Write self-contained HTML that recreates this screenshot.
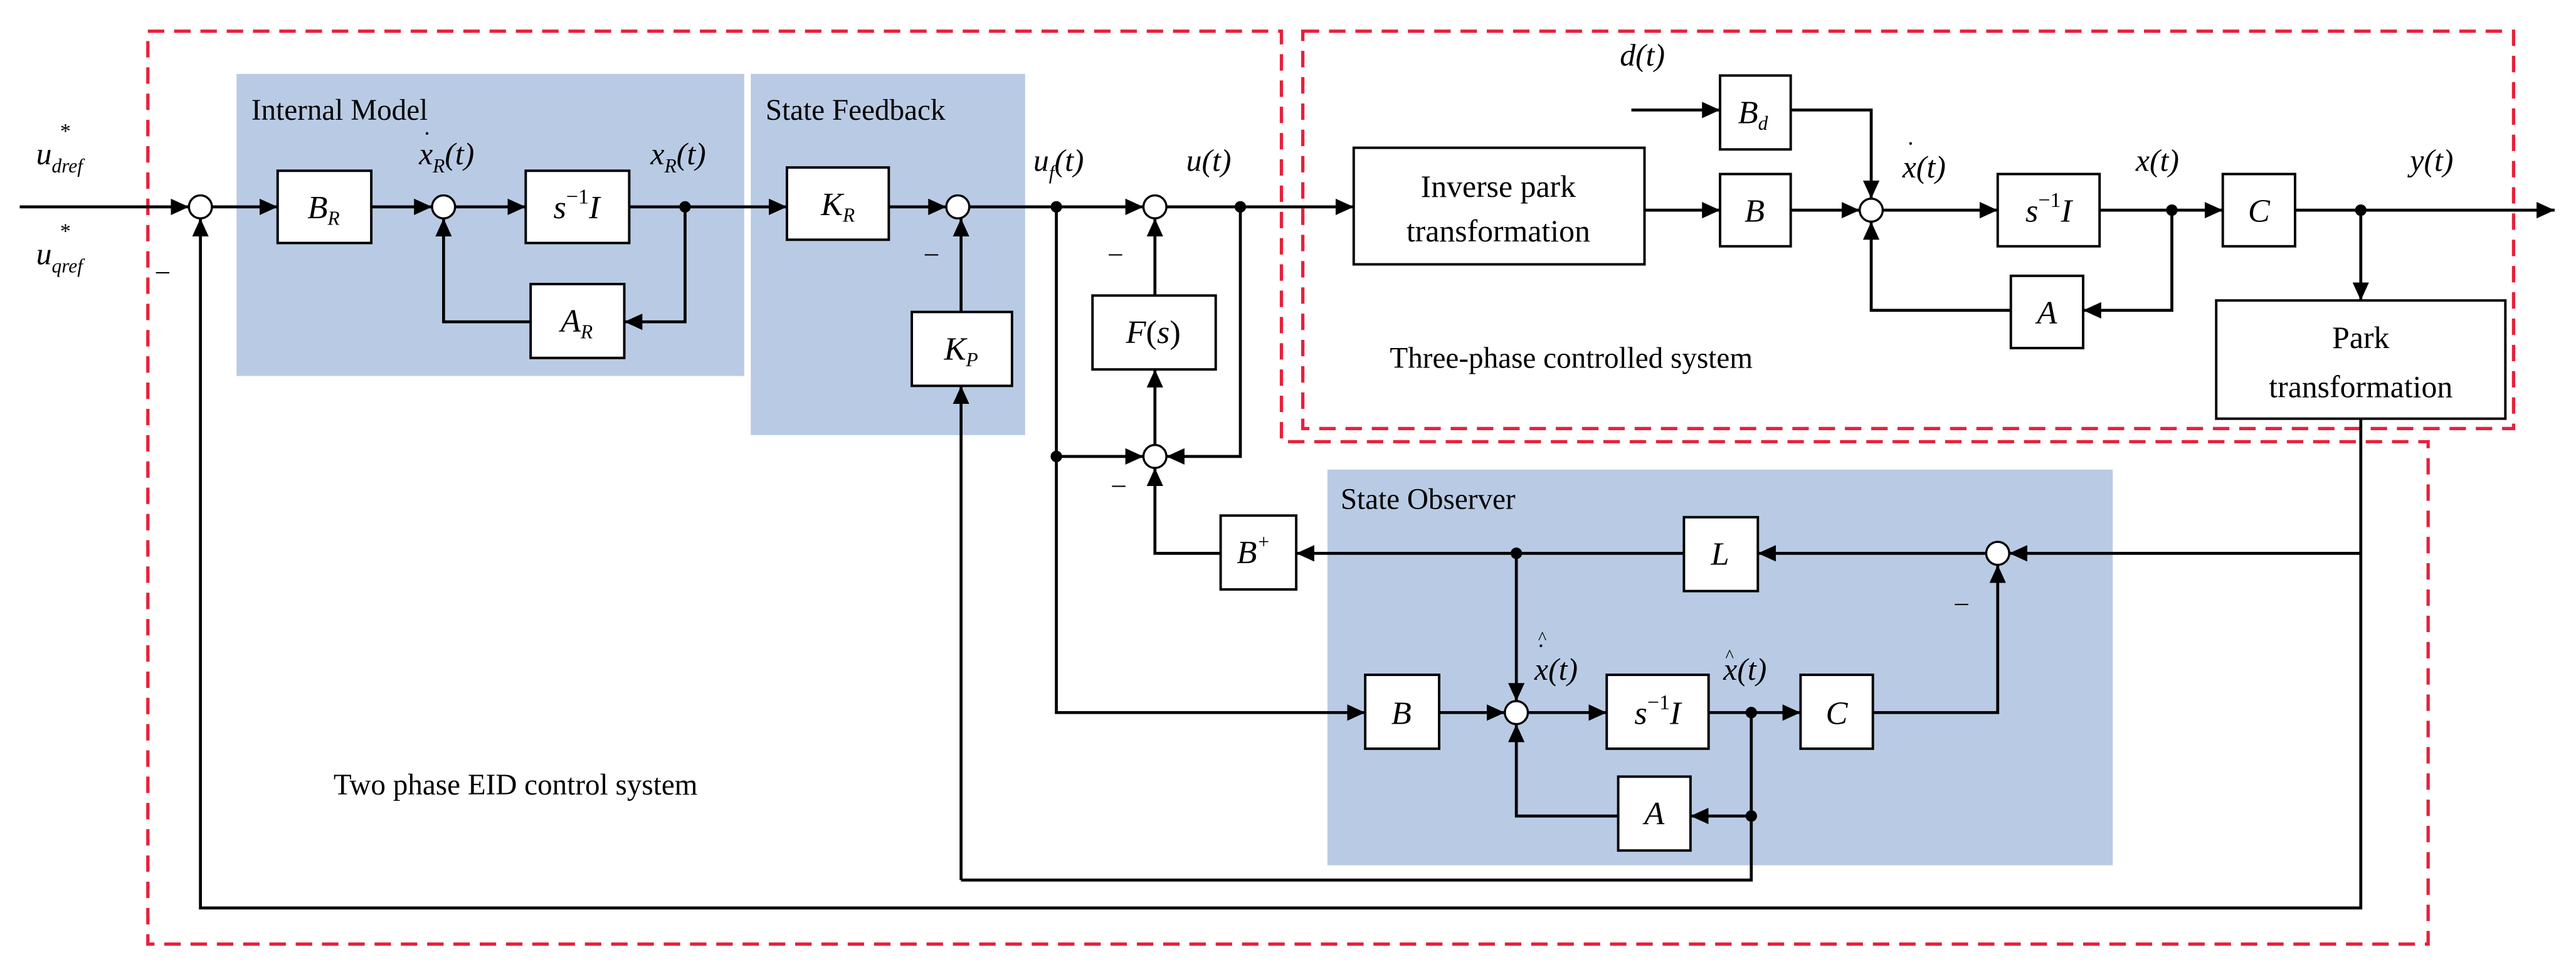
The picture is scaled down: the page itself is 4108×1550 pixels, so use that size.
<!DOCTYPE html>
<html><head><meta charset="utf-8"><style>
html,body{margin:0;padding:0;background:#fff}
svg{display:block}
svg text, svg tspan{font-family:"Liberation Serif","DejaVu Serif",serif;fill:#000}
.i{font-style:italic}
</style></head><body>
<svg width="4108" height="1550" viewBox="0 0 1568 592" preserveAspectRatio="none" xmlns="http://www.w3.org/2000/svg" font-family="Liberation Serif, DejaVu Serif, serif">
<defs>
<marker id="a" markerUnits="userSpaceOnUse" markerWidth="12" markerHeight="12" viewBox="0 0 12 12" refX="11" refY="6" orient="auto"><path d="M0,1 L11,6 L0,11 Z" fill="#000"/></marker>
</defs>
<rect x="144" y="45" width="309" height="184" fill="#b9cbe4"/>
<rect x="457" y="45" width="167" height="220" fill="#b9cbe4"/>
<rect x="808" y="286" width="478" height="241" fill="#b9cbe4"/>
<g fill="none" stroke="#e8203a" stroke-width="2" stroke-dasharray="10,6">
<path d="M90 19 H780 V269 H1478 V575 H90 Z"/>
<rect x="793" y="19" width="737" height="242"/>
</g>
<g fill="none" stroke="#000" stroke-width="1.8" marker-end="url(#a)">
<path d="M12 126 H115"/>
<path d="M129 126 H169"/>
<path d="M226 126 H263"/>
<path d="M277 126 H320"/>
<path d="M383 126 H479"/>
<path d="M541 126 H576"/>
<path d="M590 126 H696"/>
<path d="M710 126 H824"/>
<path d="M417 126 V196 H380"/>
<path d="M323 196 H270 V133"/>
<path d="M585 190 V133"/>
<path d="M585 536 V235"/>
<path d="M703 180 V133"/>
<path d="M703 271 V225"/>
<path d="M643 126 V434 H831"/>
<path d="M643 278 H696"/>
<path d="M755 126 V278 H710"/>
<path d="M743 337 H703 V285"/>
<path d="M1001 128 H1047"/>
<path d="M1090 128 H1132"/>
<path d="M993 67 H1047"/>
<path d="M1090 67 H1139 V121"/>
<path d="M1146 128 H1216"/>
<path d="M1278 128 H1353"/>
<path d="M1322 128 V189 H1268"/>
<path d="M1224 189 H1139 V135"/>
<path d="M1397 128 H1555"/>
<path d="M1437 128 V183"/>
<path d="M1437 255 V553 H122 V133"/>
<path d="M1437 337 H1223"/>
<path d="M1209 337 H1070"/>
<path d="M1025 337 H789"/>
<path d="M923 337 V427"/>
<path d="M876 434 H916"/>
<path d="M930 434 H978"/>
<path d="M1040 434 H1096"/>
<path d="M1140 434 H1216 V344"/>
<path d="M1066 497 H1029"/>
<path d="M985 497 H923 V441"/>
</g>
<path d="M1066 434 V536 H585" fill="none" stroke="#000" stroke-width="1.8"/>
<g fill="#000">
<circle cx="417" cy="126" r="3.5"/><circle cx="643" cy="126" r="3.5"/><circle cx="755" cy="126" r="3.5"/>
<circle cx="643" cy="278" r="3.5"/><circle cx="1322" cy="128" r="3.5"/><circle cx="1437" cy="128" r="3.5"/>
<circle cx="923" cy="337" r="3.5"/><circle cx="1066" cy="434" r="3.5"/><circle cx="1066" cy="497" r="3.5"/>
</g>
<g fill="#fff" stroke="#000" stroke-width="1.3">
<circle cx="122" cy="126" r="7"/><circle cx="270" cy="126" r="7"/><circle cx="583" cy="126" r="7"/>
<circle cx="703" cy="126" r="7"/><circle cx="703" cy="278" r="7"/><circle cx="1139" cy="128" r="7"/>
<circle cx="1216" cy="337" r="7"/><circle cx="923" cy="434" r="7"/>
</g>
<g fill="#fff" stroke="#000" stroke-width="1.5">
<rect x="169" y="104" width="57" height="44"/>
<rect x="320" y="104" width="63" height="44"/>
<rect x="323" y="173" width="57" height="45"/>
<rect x="479" y="102" width="62" height="44"/>
<rect x="555" y="190" width="61" height="45"/>
<rect x="665" y="180" width="75" height="45"/>
<rect x="824" y="90" width="177" height="71"/>
<rect x="1047" y="46" width="43" height="45"/>
<rect x="1047" y="106" width="43" height="44"/>
<rect x="1216" y="106" width="62" height="44"/>
<rect x="1353" y="106" width="44" height="44"/>
<rect x="1224" y="168" width="44" height="44"/>
<rect x="1349" y="183" width="176" height="72"/>
<rect x="743" y="314" width="46" height="45"/>
<rect x="1025" y="315" width="45" height="45"/>
<rect x="831" y="411" width="45" height="45"/>
<rect x="978" y="411" width="62" height="45"/>
<rect x="1096" y="411" width="44" height="45"/>
<rect x="985" y="473" width="44" height="45"/>
</g>
<g font-size="20" text-anchor="middle">
<text x="197" y="133" class="i">B<tspan font-size="12" dy="4">R</tspan></text>
<text x="351" y="133"><tspan class="i">s</tspan><tspan font-size="13" dy="-9">−1</tspan><tspan class="i" dy="9">I</tspan></text>
<text x="351" y="202" class="i">A<tspan font-size="12" dy="4">R</tspan></text>
<text x="510" y="131" class="i">K<tspan font-size="12" dy="4">R</tspan></text>
<text x="585" y="219" class="i">K<tspan font-size="12" dy="4">P</tspan></text>
<text x="702" y="209"><tspan class="i">F</tspan>(<tspan class="i">s</tspan>)</text>
<text x="912" y="120" font-size="19">Inverse park</text>
<text x="912" y="147" font-size="19">transformation</text>
<text x="1067" y="75" class="i">B<tspan font-size="12" dy="4">d</tspan></text>
<text x="1068" y="135" class="i">B</text>
<text x="1247" y="135"><tspan class="i">s</tspan><tspan font-size="13" dy="-9">−1</tspan><tspan class="i" dy="9">I</tspan></text>
<text x="1375" y="135" class="i">C</text>
<text x="1246" y="197" class="i">A</text>
<text x="1437" y="212" font-size="19">Park</text>
<text x="1437" y="242" font-size="19">transformation</text>
<text x="763" y="343" class="i">B<tspan font-size="12" dy="-9">+</tspan></text>
<text x="1047" y="344" class="i">L</text>
<text x="853" y="441" class="i">B</text>
<text x="1009" y="441"><tspan class="i">s</tspan><tspan font-size="13" dy="-9">−1</tspan><tspan class="i" dy="9">I</tspan></text>
<text x="1118" y="441" class="i">C</text>
<text x="1007" y="502" class="i">A</text>
</g>
<g font-size="18">
<text x="153" y="73">Internal Model</text>
<text x="466" y="73">State Feedback</text>
<text x="816" y="310">State Observer</text>
<text x="846" y="224">Three-phase controlled system</text>
<text x="203" y="484">Two phase EID control system</text>
</g>
<g font-size="19" class="i">
<text x="22" y="100">u<tspan font-size="12" dy="5">dref</tspan></text>
<text x="36" y="84" font-size="13">*</text>
<text x="22" y="161">u<tspan font-size="12" dy="5">qref</tspan></text>
<text x="36" y="145" font-size="13">*</text>
<text x="255" y="100">x<tspan font-size="12" dy="5">R</tspan><tspan dy="-5">(t)</tspan></text>
<text x="258" y="86" font-size="14">·</text>
<text x="396" y="100">x<tspan font-size="12" dy="5">R</tspan><tspan dy="-5">(t)</tspan></text>
<text x="629" y="104">u<tspan font-size="12" dy="5">f</tspan><tspan dy="-5">(t)</tspan></text>
<text x="722" y="104">u(t)</text>
<text x="986" y="40">d(t)</text>
<text x="1158" y="108">x(t)</text>
<text x="1161" y="92" font-size="14">·</text>
<text x="1300" y="104">x(t)</text>
<text x="1467" y="104">y(t)</text>
<text x="934" y="414">x(t)</text>
<text x="936" y="398" font-size="14">·</text>
<text x="936" y="392" font-size="11">^</text>
<text x="1049" y="414">x(t)</text>
<text x="1050" y="403" font-size="11">^</text>
</g>
<g font-size="16">
<text x="95" y="170">–</text>
<text x="563" y="159">–</text>
<text x="675" y="159">–</text>
<text x="677" y="300">–</text>
<text x="1190" y="372">–</text>
</g>
</svg>
</body></html>
